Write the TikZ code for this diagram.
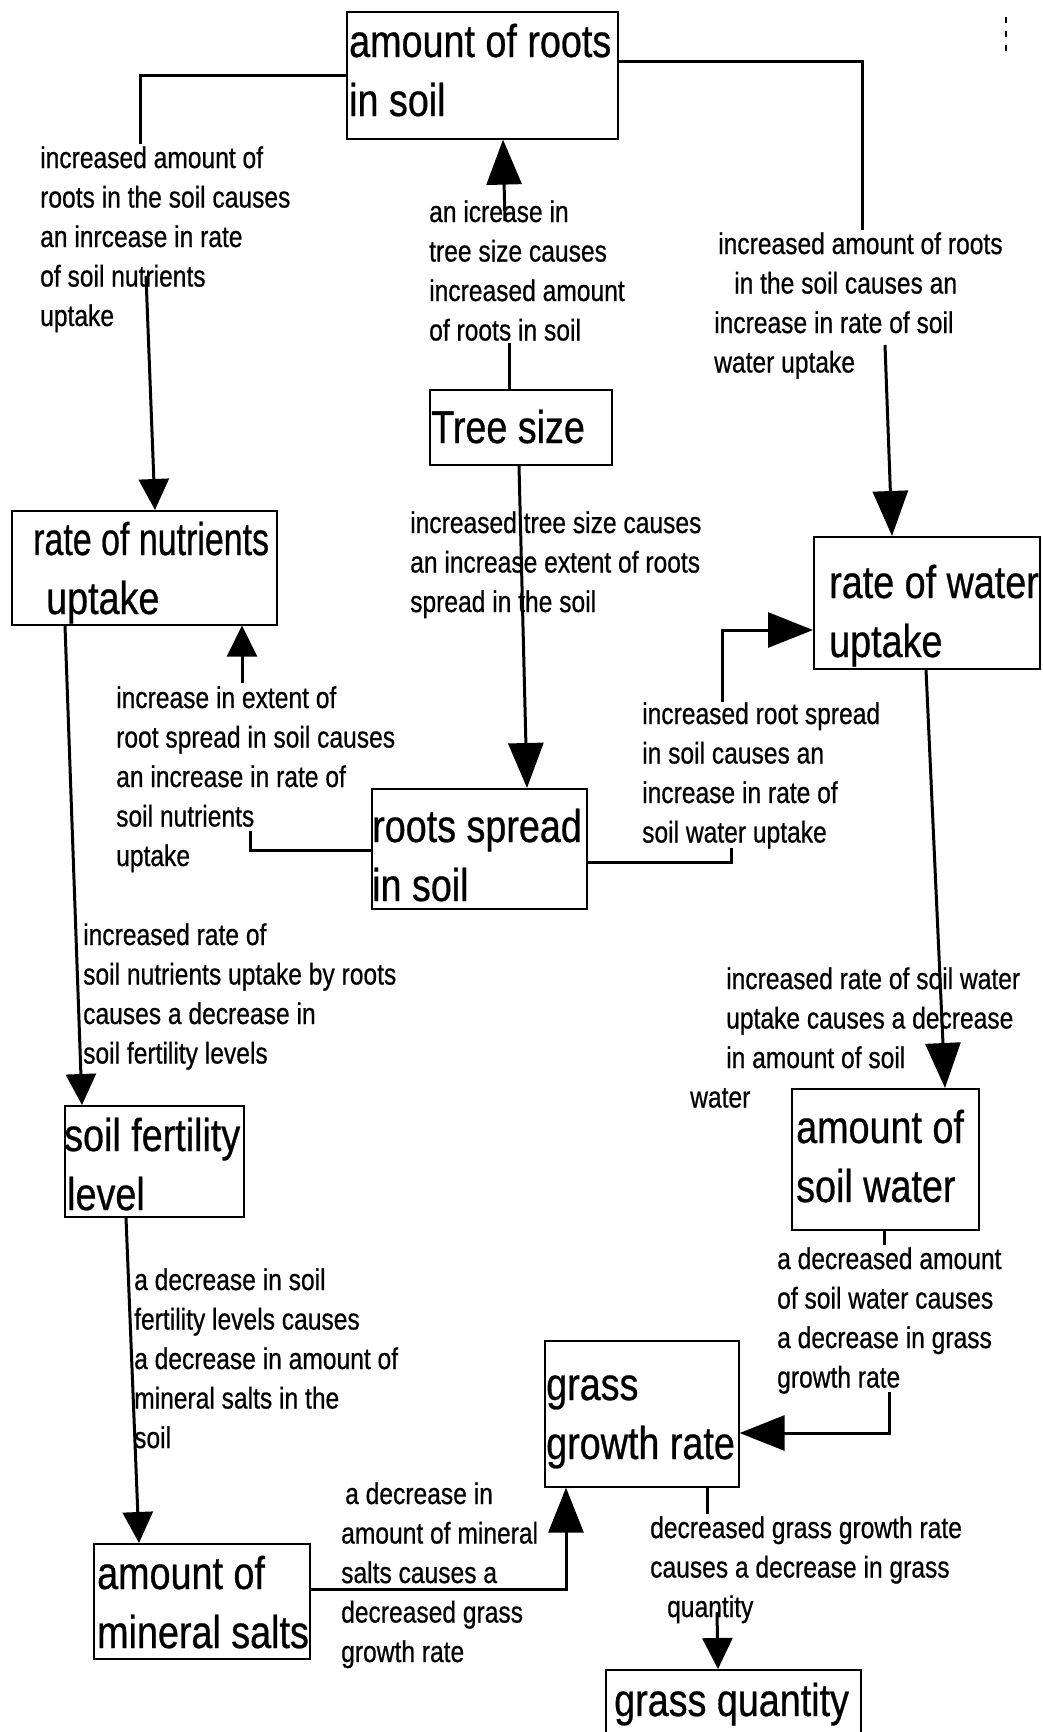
\documentclass[tikz,border=0pt]{standalone}
\usepackage{fontspec}
\setmainfont{Liberation Sans}[FakeStretch=0.82,FakeBold=0.6]
\usetikzlibrary{arrows.meta}
\begin{document}
\begin{tikzpicture}[x=1pt,y=-1pt,
  box/.style={draw, line width=1.6pt, inner sep=0pt, anchor=north west},
  boxtext/.style={font=\fontsize{46}{59}\selectfont, align=left, inner sep=0pt, anchor=base west},
  linktext/.style={font=\fontsize{30}{39.5}\selectfont, align=left, inner sep=2pt, anchor=base west},
  ln/.style={line width=3pt},
  tip/.style={-{Triangle[length=31pt,width=30pt]}},
  bigtip/.style={-{Triangle[length=45pt,width=35pt]}}]
\useasboundingbox (0,0) rectangle (1042,1732);
\clip (0,0) rectangle (1042,1732);
\fill[white] (0,0) rectangle (1042,1732);

% concept boxes
\node[box, minimum width=271pt, minimum height=127pt] (roots) at (346,11) {};
\node[box, minimum width=182pt, minimum height=75pt] (tree) at (429,389) {};
\node[box, minimum width=265pt, minimum height=114pt] (nutr) at (11,510) {};
\node[box, minimum width=226pt, minimum height=132pt] (water) at (813,536) {};
\node[box, minimum width=215pt, minimum height=120pt] (spread) at (371,788) {};
\node[box, minimum width=179pt, minimum height=111pt] (fert) at (64,1105) {};
\node[box, minimum width=187pt, minimum height=141pt] (soilw) at (791,1088) {};
\node[box, minimum width=194pt, minimum height=146pt] (grass) at (544,1340) {};
\node[box, minimum width=216pt, minimum height=115pt] (minerals) at (93,1543) {};
\node[box, minimum width=255pt, minimum height=90pt] (quantity) at (605,1669) {};

% box captions (placed by the baseline of their last line)
\node[boxtext] (rootsT) at (349,116) {amount of roots\\in soil};
\node[boxtext] (treeT) at (431,443) {Tree size};
\node[boxtext] (nutrT) at (33,614) {\scalebox{0.9}[1]{rate of nutrients}\\\hspace*{13pt}uptake};
\node[boxtext] (waterT) at (829,657) {rate of water\\uptake};
\node[boxtext] (spreadT) at (372,901) {roots spread\\in soil};
\node[boxtext] (fertT) at (64,1210) {soil fertility\\\hspace*{3pt}level};
\node[boxtext] (soilwT) at (796,1202) {amount of\\soil water};
\node[boxtext] (grassT) at (546,1459) {grass\\growth rate};
\node[boxtext] (mineralsT) at (97,1648) {amount of\\mineral salts};
\node[boxtext] (quantityT) at (614,1716) {grass quantity};

% link phrases (placed by the baseline of their last line)
\node[linktext] (l1) at (38,326) {increased amount of\\roots in the soil causes\\an inrcease in rate\\of soil nutrients\\uptake};
\node[linktext] (l2) at (427,340.5) {an icrease in\\tree size causes\\increased amount\\of roots in soil};
\node[linktext] (l3) at (712,372.5) {\hspace*{4pt}increased amount of roots\\\hspace*{20pt}in the soil causes an\\increase in rate of soil\\water uptake};
\node[linktext] (l4) at (408,612) {increased tree size causes\\an increase extent of roots\\spread in the soil};
\node[linktext] (l5) at (114,866) {increase in extent of\\root spread in soil causes\\an increase in rate of\\soil nutrients\\uptake};
\node[linktext] (l6) at (640,842.5) {increased root spread\\in soil causes an\\increase in rate of\\soil water uptake};
\node[linktext] (l7) at (81,1063.5) {increased rate of\\soil nutrients uptake by roots\\causes a decrease in\\soil fertility levels};
\node[linktext] (l8) at (688,1107.5) {\hspace*{36pt}increased rate of soil water\\\hspace*{36pt}uptake causes a decrease\\\hspace*{36pt}in amount of soil\\water};
\node[linktext] (l9) at (132,1448) {a decrease in soil\\fertility levels causes\\a decrease in amount of\\mineral salts in the\\soil};
\node[linktext] (l10) at (775,1387.5) {a decreased amount\\of soil water causes\\a decrease in grass\\growth rate};
\node[linktext] (l11) at (339,1662) {\hspace*{4pt}a decrease in\\amount of mineral\\salts causes a\\decreased grass\\growth rate};
\node[linktext] (l12) at (648,1617) {decreased grass growth rate\\causes a decrease in grass\\\hspace*{17pt}quantity};

% points where a connector leaves a link phrase
\coordinate (c1) at (146,276);
\coordinate (c2) at (505,221);
\coordinate (c3) at (885,345);
\coordinate (c5) at (242,683);
\coordinate (c5e) at (250,831);
\coordinate (c6) at (722,702);
\coordinate (c6e) at (731,848);
\coordinate (c10) at (889,1392);
\coordinate (c12) at (717,1612);

% connectors
\draw[ln] (roots.west |- 0,75) -| (140,0 |- l1.north);
\draw[ln, tip] (c1) -- (nutr.north -| 155,0);

\draw[ln] (tree.north -| 509,0) -- (509,0 |- l2.south);
\draw[ln, bigtip] (c2) -- (roots.south -| 503,0);

\draw[ln] (roots.east |- 0,61) -| (862,0 |- l3.north);
\draw[ln, bigtip] (c3) -- (water.north -| 892,0);

\draw[ln, bigtip] (tree.south -| 519,0) -- (spread.north -| 527,0);

\draw[ln] (spread.west |- 0,850) -| (c5e);
\draw[ln, tip] (c5) -- (nutr.south -| 242,0);

\draw[ln] (spread.east |- 0,862) -| (c6e);
\draw[ln, bigtip] (c6) |- (water.west |- 0,630);

\draw[ln, tip] (nutr.south -| 65,0) -- (fert.north -| 82,0);

\draw[ln, bigtip] (water.south -| 926,0) -- (soilw.north -| 945,0);

\draw[ln, tip] (fert.south -| 126,0) -- (minerals.north -| 139,0);

\draw[ln] (soilw.south -| 884,0) -- (884,0 |- l10.north);
\draw[ln, bigtip] (c10) |- (grass.east |- 0,1433);

\draw[ln, bigtip] (minerals.east |- 0,1589) -| (grass.south -| 566,0);

\draw[ln] (grass.south -| 707,0) -- (707,0 |- l12.north);
\draw[ln, tip] (c12) -- (quantity.north -| 718,0);

% faint marks in the top right corner
\draw[line width=1.5pt, dash pattern=on 6pt off 8pt] (1006,17) -- (1006,52);
\end{tikzpicture}
\end{document}
